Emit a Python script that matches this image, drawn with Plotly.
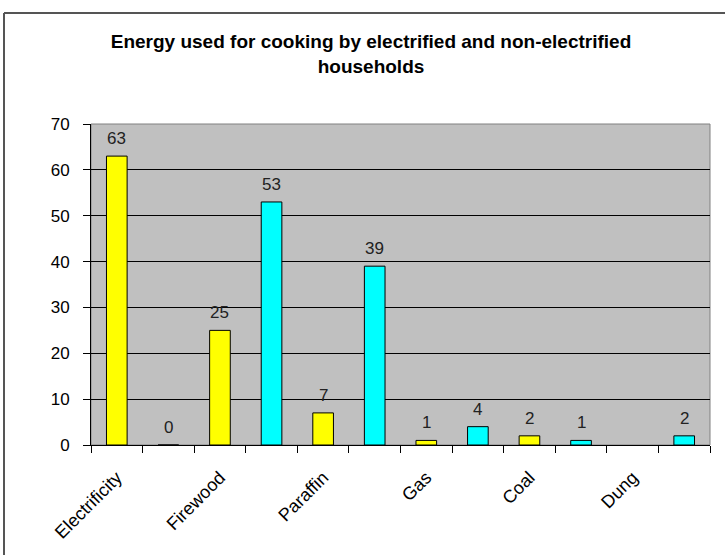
import plotly.graph_objects as go

categories = ["Electrificity", "Firewood", "Paraffin", "Gas", "Coal", "Dung"]
electrified = [63, 25, 7, 1, 2, None]
non_electrified = [0, 53, 39, 4, 1, 2]
y_ticks = [0, 10, 20, 30, 40, 50, 60, 70]

x_e = [2 * i for i in range(len(categories))]
x_n = [2 * i + 1 for i in range(len(categories))]

W, H = 725, 555
L, R, T, B = 91, 15, 124, 110
pw, ph = W - L - R, H - T - B

font = "Liberation Sans, Arial, sans-serif"
label_font = dict(family=font, size=17, color="#222222")

fig = go.Figure()
fig.add_trace(go.Bar(
    x=x_e, y=electrified, name="Electrified",
    marker=dict(color="#FFFF00", line=dict(color="black", width=1)),
    width=0.4,
))
fig.add_trace(go.Bar(
    x=x_n, y=non_electrified, name="Non-electrified",
    marker=dict(color="#00FFFF", line=dict(color="black", width=1)),
    width=0.4,
))

annotations = []
for xs, vals in ((x_e, electrified), (x_n, non_electrified)):
    for xv, v in zip(xs, vals):
        if v is None:
            continue
        annotations.append(dict(
            x=xv, y=v, xref="x", yref="y", text=str(v), showarrow=False,
            yanchor="bottom", xanchor="center", yshift=6, font=label_font,
        ))

fig.update_layout(
    width=W, height=H,
    margin=dict(l=L, r=R, t=T, b=B),
    paper_bgcolor="white", plot_bgcolor="#C0C0C0",
    barmode="overlay", showlegend=False,
    annotations=annotations,
    title=dict(
        text="<b>Energy used for cooking by electrified and non-electrified<br>households</b>",
        x=371 / W, xanchor="center", xref="container",
        y=1 - 48 / H, yanchor="top", yref="container",
        font=dict(family=font, size=19, color="black"),
    ),
    xaxis=dict(
        range=[-0.5, 2 * len(categories) - 0.5],
        tickvals=x_e, ticktext=categories, tickangle=-45,
        ticks="", showgrid=False, zeroline=False, automargin=False,
        showline=True, linecolor="black", linewidth=1,
        ticklabelstandoff=14,
        tickfont=dict(family=font, size=18, color="black"),
        minor=dict(tick0=-0.5, dtick=1, ticks="outside", ticklen=7,
                   tickcolor="black", showgrid=False),
    ),
    yaxis=dict(
        range=[0, 70], tickvals=y_ticks, automargin=False,
        ticks="outside", ticklen=7, tickcolor="black",
        showline=True, linecolor="black", linewidth=1,
        showgrid=True, gridcolor="black", gridwidth=1, zeroline=False,
        ticklabelstandoff=10,
        tickfont=dict(family=font, size=17, color="black"),
    ),
)

# plot area border (gray)
fig.add_shape(type="rect", xref="paper", yref="paper", x0=0, x1=1, y0=0, y1=1,
              line=dict(color="#808080", width=1), layer="below")
# outer chart border: top and left edges (pixel positions converted to paper)
bx0, by0 = (4 - L) / pw, (T + ph - 13) / ph
fig.add_shape(type="line", xref="paper", yref="paper",
              x0=bx0, x1=(W + 10 - L) / pw, y0=by0, y1=by0,
              line=dict(color="#555555", width=2))
fig.add_shape(type="line", xref="paper", yref="paper",
              x0=bx0, x1=bx0, y0=by0, y1=(T + ph - (H + 10)) / ph,
              line=dict(color="#555555", width=2))

fig.write_html("out.html", config={"displayModeBar": False},
               post_script="document.body.style.margin='0';")
